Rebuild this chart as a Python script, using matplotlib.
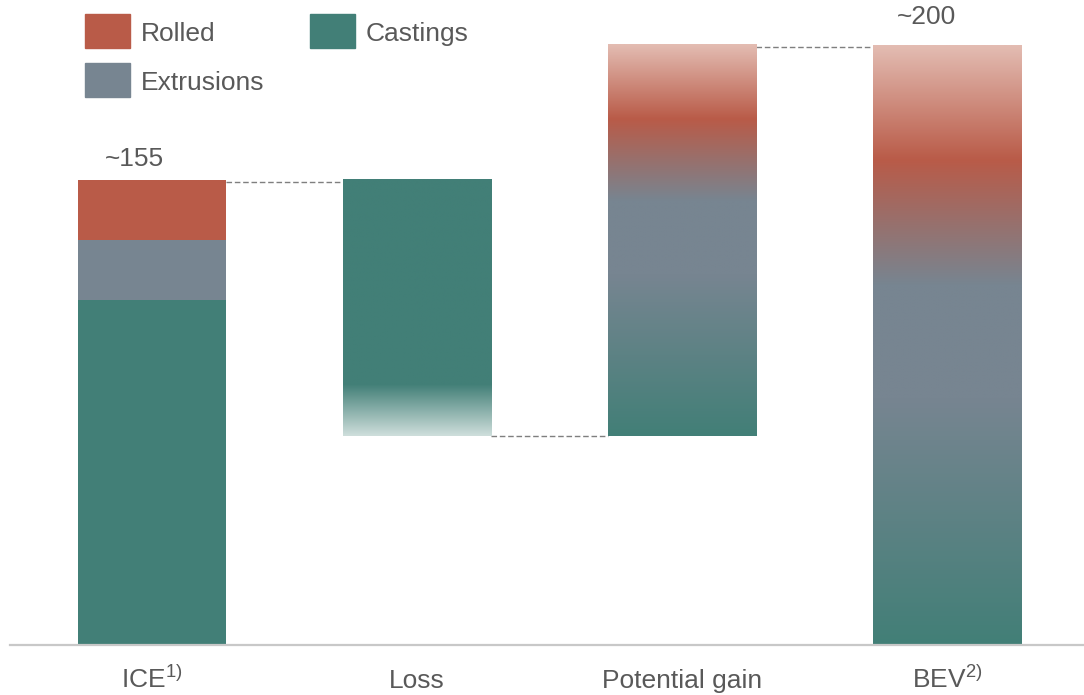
import numpy as np
import matplotlib
matplotlib.use("Agg")
import matplotlib.pyplot as plt
from matplotlib.colors import LinearSegmentedColormap
from matplotlib.patches import Rectangle

plt.rcParams["font.family"] = ["Liberation Sans", "DejaVu Sans"]
plt.rcParams["mathtext.default"] = "regular"

# data
categories = ["ICE$^{1)}$", "Loss", "Potential gain", "BEV$^{2)}$"]
ice_segments = ["Castings", "Extrusions", "Rolled"]
ice_values = [115, 20, 20]
loss = 85.5
gain = 130.5
bev_total = 200
total_labels = ["~155", "~200"]

# colours
ROLLED = "#B95B48"
EXTRUSIONS = "#778591"
CASTINGS = "#427F77"
PINK = "#E3BCB2"
PALE = "#CEDEDB"
TEXT = "#595959"
seg_colors = {"Castings": CASTINGS, "Extrusions": EXTRUSIONS, "Rolled": ROLLED}
FS = 19

# gradient stops, as fraction of bar height from bottom
mix_cmap = LinearSegmentedColormap.from_list(
    "mix", [(0.0, CASTINGS), (0.41, EXTRUSIONS), (0.60, EXTRUSIONS), (0.81, ROLLED), (1.0, PINK)])
loss_cmap = LinearSegmentedColormap.from_list(
    "fade", [(0.0, PALE), (0.2, CASTINGS), (1.0, CASTINGS)])

fig = plt.figure(figsize=(10.84, 6.95), dpi=100)
ax = fig.add_axes([10 / 1084, 50 / 695, 1074 / 1084, 645 / 695])
ax.set_xlim(-0.537, 3.517)
ax.set_ylim(0, 215)

width = 0.56
x = np.arange(len(categories))


def gradient_bar(xc, bottom, height, cmap):
    grad = np.linspace(0, 1, 256).reshape(-1, 1)
    ax.imshow(grad, cmap=cmap, origin="lower", aspect="auto", interpolation="bilinear",
              extent=(xc - width / 2, xc + width / 2, bottom, bottom + height), zorder=2)


# ICE stacked bar
bottom = 0
for name, v in zip(ice_segments, ice_values):
    ax.bar(x[0], v, width, bottom=bottom, color=seg_colors[name], zorder=2)
    bottom += v
ice_total = bottom

# Loss, gain, BEV with gradients
loss_bottom = ice_total - loss
gradient_bar(x[1], loss_bottom, loss, loss_cmap)
gradient_bar(x[2], loss_bottom, gain, mix_cmap)
gradient_bar(x[3], 0, bev_total, mix_cmap)

# dashed connectors
dash = dict(color="#7F7F7F", lw=1, ls=(0, (4, 2)), zorder=1)
ax.plot([x[0] + width / 2, x[1] - width / 2], [ice_total - 0.7] * 2, **dash)
ax.plot([x[1] + width / 2, x[2] - width / 2], [loss_bottom + 0.3] * 2, **dash)
ax.plot([x[2] + width / 2, x[3] - width / 2], [bev_total - 0.7] * 2, **dash)

# totals
ax.text(x[0] - 0.068, ice_total + 7, total_labels[0], ha="center", va="center", fontsize=FS, color=TEXT)
ax.text(x[3] - 0.078, bev_total + 9.3, total_labels[1], ha="center", va="center", fontsize=FS, color=TEXT)

# category labels (baseline aligned, so the superscripts do not push them down)
ax.set_xticks([])
for xi, lab in zip(x, categories):
    ax.text(xi, -14.3, lab, ha="center", va="baseline", fontsize=FS, color=TEXT, clip_on=False)
ax.set_yticks([])
for s in ["top", "right", "left"]:
    ax.spines[s].set_visible(False)
ax.spines["bottom"].set_color("#C8C8C8")
ax.spines["bottom"].set_linewidth(1.6)
ax.spines["bottom"].set_zorder(3)

# legend drawn by hand
legend_items = [("Rolled", ROLLED, 85, 14), ("Castings", CASTINGS, 310, 14), ("Extrusions", EXTRUSIONS, 85, 63)]
for label, col, px, py in legend_items:
    fig.add_artist(Rectangle((px / 1084, 1 - (py + 34) / 695), 45 / 1084, 34 / 695,
                             transform=fig.transFigure, color=col))
    fig.text((px + 56) / 1084, 1 - (py + 20) / 695, label, ha="left", va="center", fontsize=FS, color=TEXT)

fig.savefig("out.png", dpi=100)
